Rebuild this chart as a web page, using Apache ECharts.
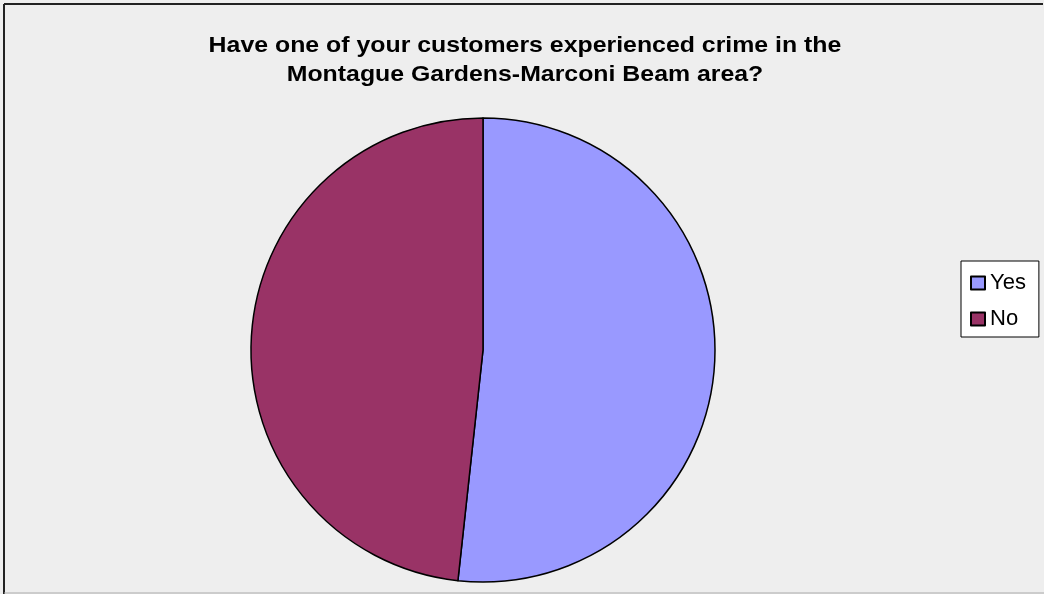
<!DOCTYPE html>
<html>
<head>
<meta charset="utf-8">
<script src="https://cdn.jsdelivr.net/npm/echarts@6/dist/echarts.min.js"></script>
<style>
html,body{margin:0;padding:0;background:#eeeeee;}
#c{width:1044px;height:594px;}
</style>
</head>
<body>
<div id="c"></div>
<script>
const titleLines = ['Have one of your customers experienced crime in the', 'Montague Gardens-Marconi Beam area?'];
const categories = ['Yes', 'No'];
const values = [15, 14];
const colors = ['#9999FF', '#993366'];

const FONT = '"Liberation Sans", Arial, sans-serif';
const chart = echarts.init(document.getElementById('c'), null, {renderer: 'canvas'});
chart.setOption({
  backgroundColor: '#eeeeee',
  animation: false,
  legend: {
    orient: 'vertical',
    left: 961,
    top: 261,
    data: categories,
    itemWidth: 14,
    itemHeight: 13,
    itemGap: 14,
    padding: [11, 13, 7, 9],
    backgroundColor: '#ffffff',
    borderColor: '#000',
    borderWidth: 1,
    icon: 'rect',
    itemStyle: {borderColor: '#000', borderWidth: 2},
    textStyle: {
      fontFamily: FONT,
      fontSize: 22,
      lineHeight: 22,
      color: '#000',
      padding: [0, 0, 0, 0]
    }
  },
  graphic: [
    {type: 'line', silent: true, shape: {x1: 4, y1: 4, x2: 1043, y2: 4}, style: {stroke: '#222', lineWidth: 2}},
    {type: 'line', silent: true, shape: {x1: 4, y1: 4, x2: 4, y2: 594}, style: {stroke: '#222', lineWidth: 2}},
    {type: 'line', silent: true, shape: {x1: 4, y1: 593, x2: 1044, y2: 593}, style: {stroke: '#aaaaaa', lineWidth: 1}},
    ...titleLines.map((t, i) => ({
      type: 'text', silent: true,
      x: 525, y: 46 + i * 29,
      scaleX: 1.13,
      style: {
        text: t,
        font: 'bold 22px ' + FONT,
        fill: '#000',
        align: 'center',
        verticalAlign: 'middle'
      }
    }))
  ],
  series: [{
    type: 'pie',
    center: [483, 350],
    radius: 232,
    startAngle: 90,
    clockwise: true,
    label: {show: false},
    labelLine: {show: false},
    emphasis: {disabled: true},
    itemStyle: {borderColor: '#000', borderWidth: 1.5},
    data: categories.map((c, i) => ({name: c, value: values[i], itemStyle: {color: colors[i]}}))
  }]
});
</script>
</body>
</html>
